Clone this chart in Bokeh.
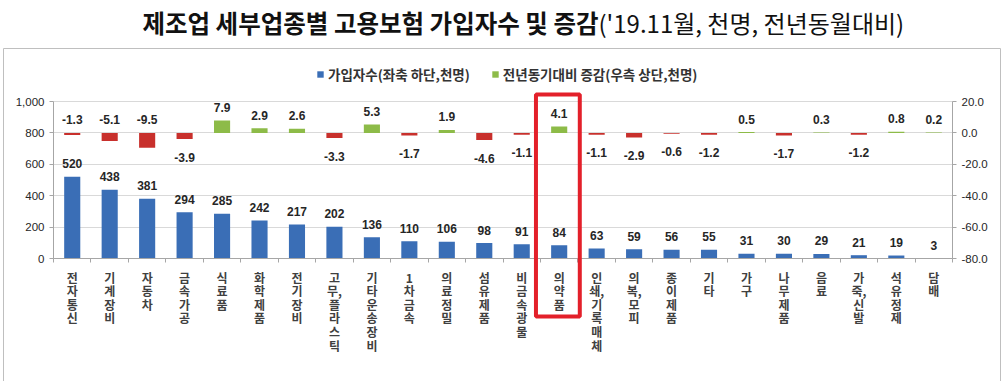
from bokeh.plotting import figure
from bokeh.models import (Range1d, LinearAxis, FixedTicker, NumeralTickFormatter,
                          ColumnDataSource, Legend, LegendItem, Label, BoxAnnotation)
from bokeh.embed import file_html
from bokeh.resources import INLINE
from bokeh.core.properties import value

# ---------------- data ----------------
categories = ["전자통신", "기계장비", "자동차", "금속가공", "식료품", "화학제품", "전기장비",
              "고무,플라스틱", "기타운송장비", "1차금속", "의료정밀", "섬유제품", "비금속광물",
              "의약품", "인쇄,기록매체", "의복,모피", "종이제품", "기타", "가구", "나무제품",
              "음료", "가죽,신발", "석유정제", "담배"]
employees = [520, 438, 381, 294, 285, 242, 217, 202, 136, 110, 106, 98, 91, 84,
             63, 59, 56, 55, 31, 30, 29, 21, 19, 3]
changes = [-1.3, -5.1, -9.5, -3.9, 7.9, 2.9, 2.6, -3.3, 5.3, -1.7, 1.9, -4.6, -1.1, 4.1,
           -1.1, -2.9, -0.6, -1.2, 0.5, -1.7, 0.3, -1.2, 0.8, 0.2]
left_ticks = [0, 200, 400, 600, 800, 1000]
right_ticks = [-80, -60, -40, -20, 0, 20]
highlight = "의약품"
title_bold = "제조업 세부업종별 고용보험 가입자수 및 증감"
title_normal = "('19.11월, 천명, 전년동월대비)"
legend_emp = "가입자수(좌축 하단,천명)"
legend_chg = "전년동기대비 증감(우측 상단,천명)"

# ---------------- styles / layout ----------------
BLUE = "#3A6EB6"
GREEN = "#8DBB48"
RED = "#C8302C"
AXIS = "#A6A6A6"
TXT = "#262626"
NUMFONT = "Liberation Sans"
KFONT = "Noto Sans CJK KR"

W, H = 1003, 381
n = len(categories)
xs = list(range(n))

# axes box in canvas pixels
AX_L, AX_R, AX_T, AX_B = 53.0, 952.0, 101.0, 258.0
cat_px = (AX_R - AX_L) / n
x_lo = -0.5 - AX_L / cat_px
x_hi = -0.5 + (W - AX_L) / cat_px
lft_lo, lft_hi = left_ticks[0], left_ticks[-1]
lpx = (AX_B - AX_T) / (lft_hi - lft_lo)
y_lo = lft_lo - (H - AX_B) / lpx
y_hi = lft_hi + AX_T / lpx
r_lo, r_hi = right_ticks[0], right_ticks[-1]
rpx = (AX_B - AX_T) / (r_hi - r_lo)
ry_lo = r_lo - (H - AX_B) / rpx
ry_hi = r_hi + AX_T / rpx


def vertical(label):
    parts = label.split(",")
    lines = []
    for k, part in enumerate(parts):
        chars = list(part)
        if k < len(parts) - 1:
            chars[-1] = chars[-1] + ","
        lines.extend(chars)
    return "\n".join(lines)


p = figure(width=W, height=H, output_backend="svg", toolbar_location=None,
           x_range=Range1d(x_lo, x_hi), y_range=Range1d(y_lo, y_hi),
           min_border_left=0, min_border_right=0, min_border_top=0,
           min_border_bottom=0)
p.extra_y_ranges = {"chg": Range1d(ry_lo, ry_hi)}
p.outline_line_color = None
p.background_fill_color = "white"
p.xgrid.visible = False
p.ygrid.ticker = FixedTicker(ticks=left_ticks)
p.ygrid.grid_line_color = "#D9D9D9"
try:
    p.ygrid.cross_bounds = (-0.5, n - 0.5)
except Exception:
    pass

# x axis (at 0)
xa = p.xaxis[0]
xa.fixed_location = 0
xa.bounds = (-0.5, n - 0.5)
xa.ticker = FixedTicker(ticks=xs, minor_ticks=[i - 0.5 for i in range(n + 1)])
xa.major_label_overrides = {i: vertical(c) for i, c in zip(xs, categories)}
xa.major_tick_out = 0
xa.major_tick_in = 0
xa.minor_tick_out = 4
xa.minor_tick_in = 0
xa.minor_tick_line_color = AXIS
xa.axis_line_color = AXIS
xa.major_label_standoff = 6
xa.major_label_text_font = KFONT
xa.major_label_text_font_style = "bold"
xa.major_label_text_font_size = "12px"
xa.major_label_text_line_height = 0.8
xa.major_label_text_color = "#404040"

# left axis
ya = p.yaxis[0]
ya.fixed_location = -0.5
ya.bounds = (lft_lo, lft_hi)
ya.ticker = FixedTicker(ticks=left_ticks)
ya.formatter = NumeralTickFormatter(format="0,0")
ya.minor_tick_line_color = None
ya.major_tick_in = 0
ya.major_tick_out = 4
ya.major_tick_line_color = AXIS
ya.axis_line_color = AXIS
ya.major_label_standoff = 5
ya.major_label_text_font = NUMFONT
ya.major_label_text_font_size = "11.5px"
ya.major_label_text_color = TXT

# right axis
ra = LinearAxis(y_range_name="chg", ticker=FixedTicker(ticks=right_ticks),
                formatter=NumeralTickFormatter(format="0.0"))
ra.fixed_location = n - 0.5
ra.bounds = (r_lo, r_hi)
ra.minor_tick_line_color = None
ra.major_tick_in = 0
ra.major_tick_out = 4
ra.major_tick_line_color = AXIS
ra.axis_line_color = AXIS
ra.major_label_standoff = 5
ra.major_label_text_font = NUMFONT
ra.major_label_text_font_size = "11.5px"
ra.major_label_text_color = TXT
p.add_layout(ra, "right")

LBL = dict(text_align="center", text_baseline="alphabetic", text_font=value(NUMFONT),
           text_font_style="bold", text_font_size="12px", text_color=TXT)

# employees bars
src_emp = ColumnDataSource(dict(x=xs, y=employees, t=[str(v) for v in employees]))
r_emp = p.vbar(x="x", top="y", width=0.43, source=src_emp,
               fill_color=BLUE, line_color=None)
p.text(x="x", y="y", text="t", source=src_emp, y_offset=-13, **LBL)

# change bars
pos = [i for i, v in enumerate(changes) if v >= 0]
neg = [i for i, v in enumerate(changes) if v < 0]
src_pos = ColumnDataSource(dict(x=[xs[i] for i in pos], y=[changes[i] for i in pos],
                                t=[f"{changes[i]:.1f}" for i in pos]))
src_neg = ColumnDataSource(dict(x=[xs[i] for i in neg], y=[changes[i] for i in neg],
                                t=[f"{changes[i]:.1f}" for i in neg]))
r_pos = p.vbar(x="x", top="y", bottom=0, width=0.43, source=src_pos,
               y_range_name="chg", fill_color=GREEN, line_color=None)
p.vbar(x="x", top=0, bottom="y", width=0.43, source=src_neg,
       y_range_name="chg", fill_color=RED, line_color=None)
p.text(x="x", y="y", text="t", source=src_pos, y_range_name="chg", y_offset=-13, **LBL)

# negative labels: below the bar, except where the tall blue label would collide
above = [i for i in neg if employees[i] > 350]
below = [i for i in neg if employees[i] <= 350]
src_na = ColumnDataSource(dict(x=[xs[i] for i in above], y=[0 for i in above],
                               t=[f"{changes[i]:.1f}" for i in above]))
src_nb = ColumnDataSource(dict(x=[xs[i] for i in below], y=[changes[i] for i in below],
                               t=[f"{changes[i]:.1f}" for i in below]))
p.text(x="x", y="y", text="t", source=src_na, y_range_name="chg", y_offset=-13, **LBL)
p.text(x="x", y="y", text="t", source=src_nb, y_range_name="chg", y_offset=18, **LBL)

# legend
legend = Legend(items=[LegendItem(label=legend_emp, renderers=[r_emp]),
                       LegendItem(label=legend_chg, renderers=[r_pos])],
                location=(316, H - 84), orientation="horizontal")
legend.glyph_width = 8
legend.glyph_height = 8
legend.label_standoff = 4
legend.spacing = 21
legend.padding = 0
legend.margin = 0
legend.border_line_color = None
legend.background_fill_alpha = 0
legend.label_text_font = KFONT
legend.label_text_font_size = "13.5px"
legend.label_text_font_style = "bold"
legend.label_text_color = "#333333"
legend.label_height = 12
p.add_layout(legend)

# highlight box around the highlighted category
hi = categories.index(highlight)
p.add_layout(BoxAnnotation(left=xs[hi] - 0.62, right=xs[hi] + 0.55, top=H - 94,
                           bottom=H - 316, top_units="screen", bottom_units="screen",
                           fill_alpha=0, line_color="#E3202A", line_alpha=1,
                           line_width=4))

# outer chart box
p.add_layout(BoxAnnotation(left=3, right=1000, top=H - 48, bottom=-20,
                           left_units="screen", right_units="screen",
                           top_units="screen", bottom_units="screen",
                           fill_alpha=0, line_color="#BFBFBF", line_alpha=1,
                           line_width=1))

# title
p.add_layout(Label(x=598, y=H - 22, x_units="screen", y_units="screen", text=title_bold,
                   text_align="right", text_baseline="middle", text_font=KFONT,
                   text_font_style="bold", text_font_size="24.5px", text_color="#111111"))
p.add_layout(Label(x=598, y=H - 22, x_units="screen", y_units="screen", text=title_normal,
                   text_align="left", text_baseline="middle", text_font=KFONT,
                   text_font_size="24px", text_color="#111111"))

open("out.html", "w").write(file_html(p, INLINE))
